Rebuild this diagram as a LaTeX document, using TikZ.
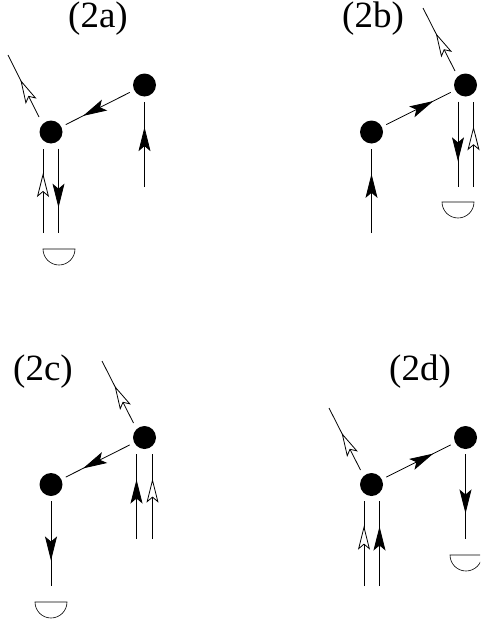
\documentclass[tikz,border=0pt]{standalone}
\usepackage{fontspec}
\setmainfont{Liberation Serif}
\usetikzlibrary{arrows.meta,decorations.markings}
\begin{document}
\begin{tikzpicture}[x=1pt, y=-1pt, line width=0.8pt,
				main/.style = {circle, fill=black, inner sep=0pt, minimum size=23pt, outer sep=5pt},
				letter/.style = {inner sep=0pt, font=\fontsize{37}{37}\selectfont},
				solid tip/.style = {postaction={decorate, decoration={markings, mark=at position #1 with {\arrow{Stealth[length=24pt, width=12pt, inset=5pt]}}}}},
				open tip/.style = {postaction={decorate, decoration={markings, mark=at position #1 with {\arrow{Stealth[length=24pt, width=12pt, inset=5pt, fill=white]}}}}},
				detector/.style = {line width=0.6pt}]
				
				\clip (0,0) rectangle (480,621);
				
				% (2a)
				\node[letter] (la) at (98,19) {(2a)};
				\node[main] (a1) at (51,132) {};
				\node[main] (a2) at (144.5,85) {};
				\coordinate (a3) at (39,117);
				\coordinate (a4) at (8,55);
				\coordinate (a5) at (144.5,187);
				\coordinate (a6) at (43,233);
				\coordinate (a7) at (58.5,233);
				\draw[solid tip=0.73] (a2) -- (a1);
				\draw[open tip=0.6] (a3) -- (a4);
				\draw[solid tip=0.7] (a5) -- (a2);
				\draw[open tip=0.71] (a6) -- (a6 |- a1.south);
				\draw[solid tip=0.7] (a7 |- a1.south) -- (a7);
				\draw[detector] (43,249) -- (75,249) arc (0:180:16) -- cycle;
				
				% (2b)
				\node[letter] (lb) at (373,19) {(2b)};
				\node[main] (b1) at (371.5,132) {};
				\node[main] (b2) at (465.5,85) {};
				\coordinate (b3) at (455,71);
				\coordinate (b4) at (423,8);
				\coordinate (b5) at (371.5,233);
				\coordinate (b6) at (458,187);
				\coordinate (b7) at (473.5,187);
				\draw[solid tip=0.73] (b1) -- (b2);
				\draw[open tip=0.6] (b3) -- (b4);
				\draw[solid tip=0.7] (b5) -- (b1);
				\draw[solid tip=0.7] (b6 |- b2.south) -- (b6);
				\draw[open tip=0.71] (b7) -- (b7 |- b2.south);
				\draw[detector] (442,202) -- (474,202) arc (0:180:16) -- cycle;
				
				% (2c)
				\node[letter] (lc) at (43,372) {(2c)};
				\node[main] (c1) at (51,484.5) {};
				\node[main] (c2) at (144.5,437.5) {};
				\coordinate (c3) at (133.5,423);
				\coordinate (c4) at (102,361);
				\coordinate (c5) at (51,586);
				\coordinate (c6) at (136.5,539);
				\coordinate (c7) at (152.5,539);
				\draw[solid tip=0.73] (c2) -- (c1);
				\draw[open tip=0.6] (c3) -- (c4);
				\draw[solid tip=0.7] (c1) -- (c5);
				\draw[solid tip=0.7] (c6) -- (c6 |- c2.south);
				\draw[open tip=0.71] (c7) -- (c7 |- c2.south);
				\draw[detector] (35,602) -- (67,602) arc (0:180:16) -- cycle;
				
				% (2d)
				\node[letter] (ld) at (420,372) {(2d)};
				\node[main] (d1) at (371.5,484.5) {};
				\node[main] (d2) at (465.5,437.5) {};
				\coordinate (d3) at (360.5,470);
				\coordinate (d4) at (329,408);
				\coordinate (d5) at (465.5,539);
				\coordinate (d6) at (364,586);
				\coordinate (d7) at (379.5,586);
				\draw[solid tip=0.73] (d1) -- (d2);
				\draw[open tip=0.6] (d3) -- (d4);
				\draw[solid tip=0.7] (d2) -- (d5);
				\draw[open tip=0.71] (d6) -- (d6 |- d1.south);
				\draw[solid tip=0.7] (d7) -- (d7 |- d1.south);
				\draw[detector] (450,555) -- (482,555) arc (0:180:16) -- cycle;
			\end{tikzpicture}
\end{document}
